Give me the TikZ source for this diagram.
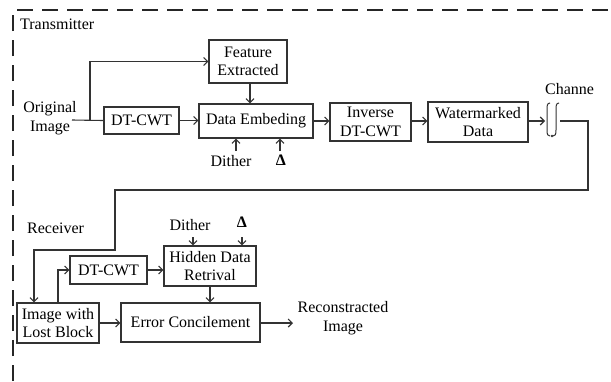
\documentclass[tikz,border=0pt]{standalone}
\usepackage{fontspec}
\setmainfont{Liberation Serif}
\usetikzlibrary{arrows.meta,calc}
\begin{document}
\begin{tikzpicture}[x=1pt,y=-1pt,
  font=\fontsize{16}{18.5}\selectfont,
  box/.style={draw=black!80,line width=1.3pt,inner sep=0pt,align=center},
  lbl/.style={inner sep=0pt,align=center},
  line/.style={draw=black!80,line width=1.1pt},
  arr/.style={line,-{Straight Barb[length=4pt,width=8pt]}},
  frame/.style={draw=black!85,line width=1.2pt,dash pattern=on 16pt off 9pt}]
\useasboundingbox (0,0) rectangle (611,381);
\fill[white] (0,0) rectangle (611,381);
% dashed frame
\draw[frame] (13,381) -- (13,10) -- (611,10);
% transmitter
\node[lbl,anchor=west] (tx) at (20,24) {Transmitter};
\node[lbl] (orig) at (50,118) {Original\\Image};
\node[box,minimum width=78pt,minimum height=43pt] (fe) at (248,61.5) {Feature\\Extracted};
\node[box,minimum width=114pt,minimum height=34pt] (de) at (256,121) {Data Embeding};
\node[box,minimum width=75pt,minimum height=27pt] (dt1) at (141.5,120.5) {DT-CWT};
\node[box,minimum width=81pt,minimum height=38pt] (inv) at (370.5,122) {Inverse\\DT-CWT};
\node[box,minimum width=100pt,minimum height=40pt] (wm) at (478,122) {Watermarked\\Data};
\node[lbl] (dith1) at (231,161) {Dither};
\node[lbl] (del1) at (281,160) {\textbf{Δ}};
\node[lbl,anchor=west] (chl) at (545,89) {Channe};
% receiver
\node[lbl,anchor=west] (rx) at (27,228) {Receiver};
\node[box,minimum width=82pt,minimum height=40pt] (img) at (58,323) {Image with\\Lost Block};
\node[box,minimum width=77pt,minimum height=28pt] (dt2) at (108.5,270) {DT-CWT};
\node[box,minimum width=92pt,minimum height=40pt] (hd) at (210,266) {Hidden Data\\Retrival};
\node[box,minimum width=139pt,minimum height=39pt] (ec) at (190.5,322.5) {Error Concilement};
\node[lbl] (dith2) at (190,225) {Dither};
\node[lbl] (del2) at (242,222) {\textbf{Δ}};
\node[lbl] (rec) at (343,318) {Reconstracted\\Image};
% transmitter connectors
\coordinate (o1) at (72,120);
\coordinate (br) at (90,120);
\draw[line] (o1) -- (dt1.west);
\draw[arr] (br) |- (fe.west);
\draw[arr] (fe.south -| 250,0) -- (de.north -| 250,0);
\draw[arr] (dt1.east) -- (dt1.east -| de.west);
\draw[arr] (236,151) -- (de.south -| 236,0);
\draw[arr] (280,151) -- (de.south -| 280,0);
\draw[arr] (de.east) -- (inv.west |- de.east);
\draw[arr] (inv.east |- de.east) -- (wm.west |- de.east);
% channel
\coordinate (chin) at (545,121);
\coordinate (chout) at (560,121);
\draw[arr] (wm.east |- chin) -- (chin);
\draw[line,line width=1pt] (550,103) .. controls (547,103) and (547,106) .. (547,110) -- (547,130) .. controls (547,135) and (548,136) .. (550,136);
\draw[line,line width=1pt] (559,103) .. controls (556,103) and (556,106) .. (556,110) -- (556,130) .. controls (556,135) and (555,136) .. (553,136);
\fill[black!80] (552,136) circle (1.3pt);
% return line
\coordinate (rA) at (588,190);
\coordinate (rB) at (115,250);
\draw[arr] (chout) -| (rA) -| (rB) -| ([xshift=-24pt]img.north);
% receiver connectors
\draw[arr] (img.north) |- (dt2.west);
\draw[arr] (dt2.east) -- (dt2.east -| hd.west);
\draw[arr] (193,237) -- (hd.north -| 193,0);
\draw[arr] (242,237) -- (hd.north -| 242,0);
\draw[arr] (hd.south) -- (ec.north -| hd.south);
\draw[arr] (img.east) -- (ec.west |- img.east);
\draw[arr] (ec.east |- img.east) -- (293,323);
\end{tikzpicture}
\end{document}
